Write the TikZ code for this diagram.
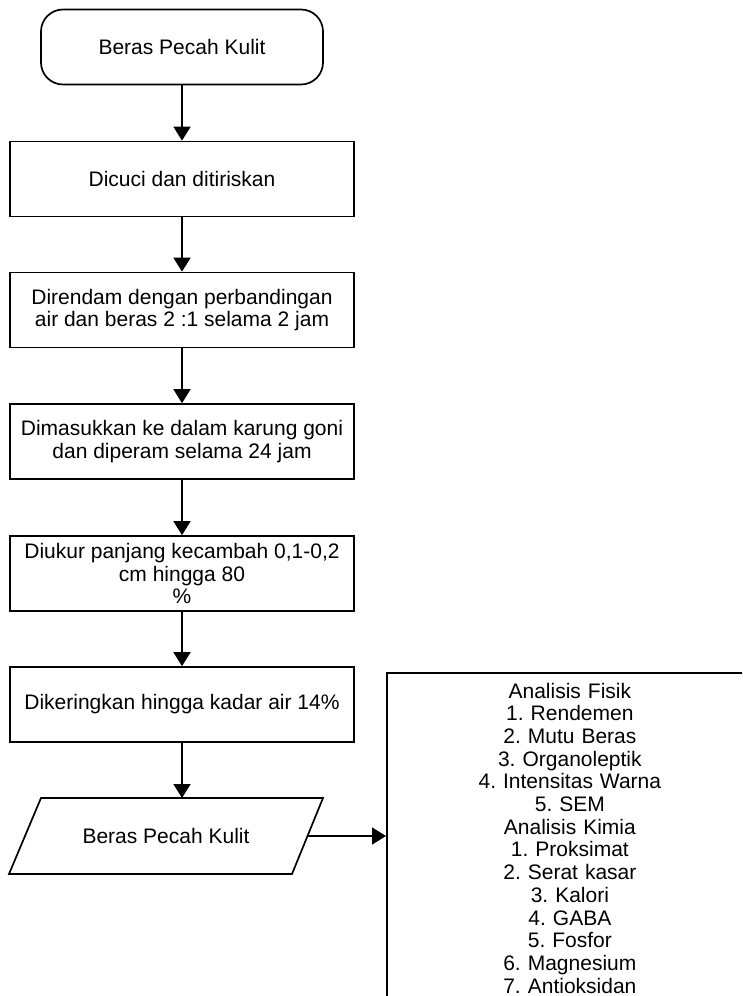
\documentclass[tikz,border=0pt]{standalone}
\usepackage{fontspec}
\setmainfont{Liberation Sans}
\usetikzlibrary{arrows.meta}

\begin{document}
\begin{tikzpicture}[x=1pt,y=-1pt,
  font=\fontsize{21}{22.7}\selectfont\frenchspacing,
  garis/.style={draw, line width=1.7pt},
  kotak/.style={garis, minimum width=344pt, minimum height=75pt, align=center, inner sep=2pt},
  ujung/.style={kotak, rounded corners=22pt, minimum width=282pt},
  panah/.style={line width=1.7pt, -{Triangle[length=14pt,width=17pt]}}]

\useasboundingbox (0,0) rectangle (742,996);
\clip (0,0) rectangle (742,996);

% alur proses
\node[ujung] (mulai) at (182,47) {Beras Pecah Kulit};
\node[kotak] (cuci) at (182,179) {Dicuci dan ditiriskan};
\node[kotak] (rendam) at (182,310) {Direndam dengan perbandingan\\air dan beras 2 :1 selama 2 jam};
\node[kotak] (peram) at (182,441.5) {Dimasukkan ke dalam karung goni\\dan diperam selama 24 jam};
\node[kotak] (ukur) at (182,573.5) {Diukur panjang kecambah 0,1-0,2\\cm hingga 80\\\%};
\node[kotak] (kering) at (182,704.5) {Dikeringkan hingga kadar air 14\%};

% jajaran genjang
\draw[garis] (41,798) -- (323,798) -- (292,874) -- (9,874) -- cycle;
\node (hasil) at (166,836) {Beras Pecah Kulit};
\coordinate (hasil-atas) at (182,798);
\coordinate (hasil-kanan) at (307.5,836);

% analisis
\node[garis, anchor=north west, text width=346pt, inner xsep=10pt, inner ysep=10pt, align=center] (analisis) at (386,672)
  {Analisis Fisik\\1. Rendemen\\2. Mutu Beras\\3. Organoleptik\\4. Intensitas Warna\\5. SEM\\
   Analisis Kimia\\1. Proksimat\\2. Serat kasar\\3. Kalori\\4. GABA\\5. Fosfor\\6. Magnesium\\7. Antioksidan};

\draw[panah] (mulai) -- (cuci);
\draw[panah] (cuci) -- (rendam);
\draw[panah] (rendam) -- (peram);
\draw[panah] (peram) -- (ukur);
\draw[panah] (ukur) -- (kering);
\draw[panah] (kering.south) -- (hasil-atas);
\draw[panah] (hasil-kanan) -- (hasil-kanan -| analisis.west);

\end{tikzpicture}
\end{document}
